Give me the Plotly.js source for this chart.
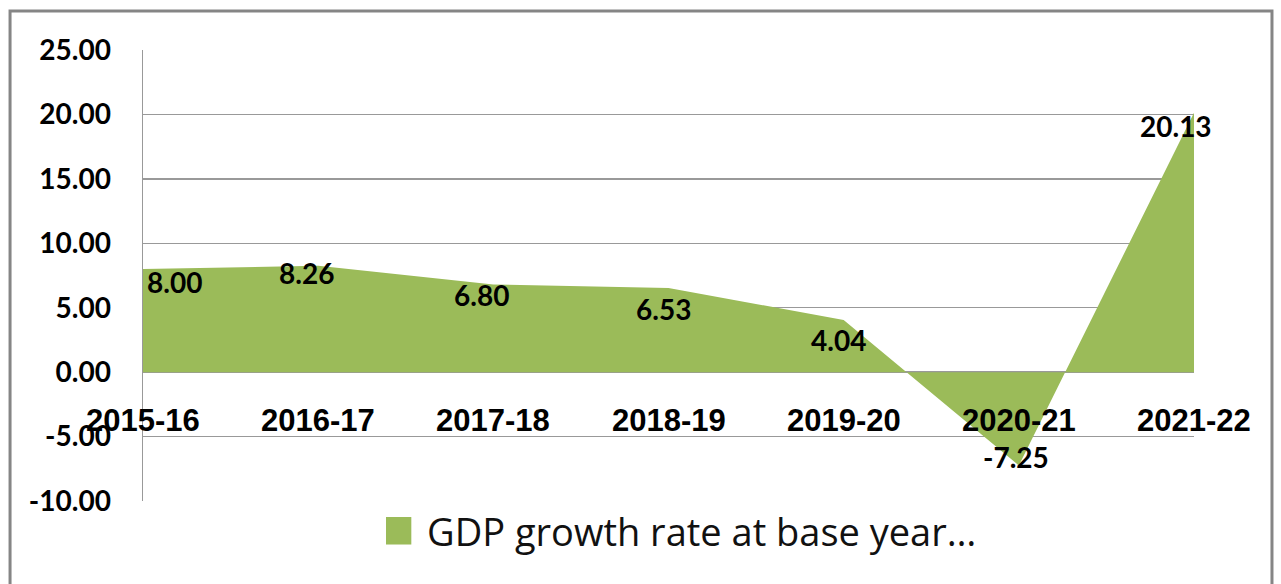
<!DOCTYPE html>
<html>
<head>
<meta charset="utf-8">
<script src="https://cdn.plot.ly/plotly-3.0.1.min.js"></script>
<style>
html,body{margin:0;padding:0;background:#fff;}
#chart{width:1281px;height:584px;}
</style>
</head>
<body>
<div id="chart"></div>
<script>
// ---- data ----
const categories = ["2015-16","2016-17","2017-18","2018-19","2019-20","2020-21","2021-22"];
const growthRate = [8.00, 8.26, 6.80, 6.53, 4.04, -7.25, 20.13];
const seriesName = "GDP growth rate at base year…";
const yTicks = [-10, -5, 0, 5, 10, 15, 20, 25];
const yTickText = yTicks.map(v => v.toFixed(2));

// ---- label placement (pixel offsets, styling only) ----
const labelShiftX = [31, -12, -12, -5, -5, -3, -18];
const labelShiftY = [-13, -7, -10, -21, -20, 9, -13];

const GREEN = "#9BBB59";
const GRID = "#999999";
const xIdx = categories.map((c, i) => i);

const trace = {
  type: "scatter",
  mode: "lines",
  x: xIdx,
  y: growthRate,
  name: seriesName,
  fill: "tozeroy",
  fillcolor: GREEN,
  line: {color: GREEN, width: 0},
  showlegend: false,
  hoverinfo: "x+y"
};

const annotations = [];
// data labels
growthRate.forEach((v, i) => {
  annotations.push({
    x: xIdx[i], y: v, xref: "x", yref: "y",
    text: v.toFixed(2), showarrow: false,
    xshift: labelShiftX[i], yshift: labelShiftY[i],
    font: {family: "Lato, 'Open Sans', sans-serif", size: 28, color: "#000", weight: 700}
  });
});
// category labels sitting at the zero line
categories.forEach((c, i) => {
  annotations.push({
    x: xIdx[i], y: 0, xref: "x", yref: "y",
    text: c, showarrow: false, yshift: -48,
    font: {family: "'Liberation Sans', Arial, sans-serif", size: 31, color: "#000", weight: 700}
  });
});
// legend text
annotations.push({
  x: 0.2683, y: -0.066, xref: "paper", yref: "paper",
  xanchor: "left", yanchor: "middle",
  text: seriesName, showarrow: false,
  font: {family: "'Open Sans', sans-serif", size: 38, color: "#111"}
});

const layout = {
  width: 1281, height: 584,
  margin: {l: 143, r: 87, t: 50, b: 83, pad: 0},
  paper_bgcolor: "#fff", plot_bgcolor: "#fff",
  showlegend: false,
  xaxis: {
    range: [0, categories.length - 1],
    showgrid: false, zeroline: false, showticklabels: false,
    showline: false, fixedrange: true
  },
  yaxis: {
    range: [yTicks[0], yTicks[yTicks.length - 1]],
    tickvals: yTicks, ticktext: yTickText,
    showgrid: true, gridcolor: GRID, gridwidth: 1.5,
    zeroline: false,
    showline: true, linecolor: GRID, linewidth: 1.5,
    ticks: "", ticklabelstandoff: 25,
    tickfont: {family: "Lato, 'Open Sans', sans-serif", size: 28, color: "#000", weight: 700},
    fixedrange: true
  },
  annotations: annotations,
  shapes: [
    // outer chart frame
    {type: "rect", xref: "paper", yref: "paper",
     x0: -0.1265, x1: 1.0742, y0: -0.35, y1: 1.0865,
     line: {color: "#858585", width: 3}, fillcolor: "rgba(0,0,0,0)", layer: "above"},
    // legend key
    {type: "rect", xref: "paper", yref: "paper",
     x0: 0.2312, x1: 0.2553, y0: -0.0965, y1: -0.0355,
     line: {width: 0}, fillcolor: GREEN}
  ]
};

Plotly.newPlot("chart", [trace], layout, {displayModeBar: false, staticPlot: true});
</script>
</body>
</html>
